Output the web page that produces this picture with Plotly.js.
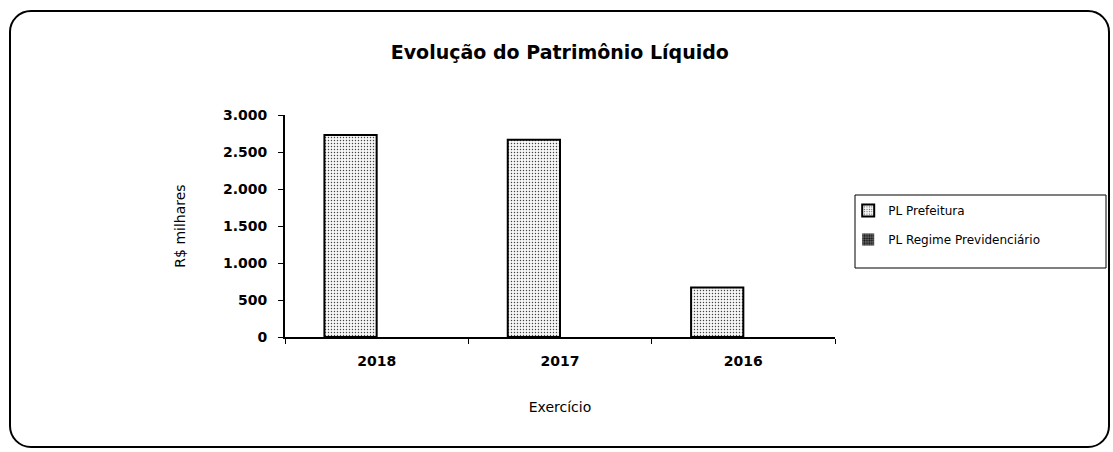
<!DOCTYPE html>
<html>
<head>
<meta charset="utf-8">
<script src="https://cdn.plot.ly/plotly-3.0.1.min.js"></script>
<style>
  body { margin: 0; background: #fff; }
  #wrap { position: relative; width: 1113px; height: 452px; }
  #chart { position: absolute; left: 0; top: 0; width: 1113px; height: 452px; }
  #frame { position: absolute; left: 9px; top: 10px; width: 1097px; height: 434px;
           border: 2px solid #000; border-radius: 22px; pointer-events: none; }
</style>
</head>
<body>
<div id="wrap"><div id="chart"></div><div id="frame"></div></div>
<script>
const categories = ["2018", "2017", "2016"];
const plPrefeitura = [2730, 2665, 670];
const plRegime = [0, 0, 0];
const seriesNames = ["PL Prefeitura", "PL Regime Previdenciário"];

const FONT = "DejaVu Sans, Arial, sans-serif";

const traces = [
  {
    type: "bar", name: seriesNames[0], x: categories, y: plPrefeitura, legendgroup: "a",
    marker: { color: "#ffffff", line: { color: "#000", width: 2 },
              pattern: { shape: ".", fgcolor: "#444", bgcolor: "#f7f7f7", size: 3, solidity: 0.18 } }
  },
  {
    type: "bar", name: seriesNames[1], x: categories, y: plRegime, legendgroup: "b",
    marker: { color: "#444", line: { color: "#000", width: 0 },
              pattern: { shape: ".", fgcolor: "#000", bgcolor: "#666", size: 3, solidity: 0.4 } }
  }
];

const layout = {
  width: 1113, height: 452,
  margin: { l: 285, r: 278, t: 115, b: 115 },
  paper_bgcolor: "rgba(0,0,0,0)", plot_bgcolor: "rgba(0,0,0,0)",
  separators: ",.",
  font: { family: FONT, color: "#000" },
  title: { text: "Evolução do Patrimônio Líquido", font: { size: 19, color: "#000", weight: "bold", family: FONT },
           x: 0.503, xanchor: "center", y: 0.885, yanchor: "middle" },
  barmode: "group", bargap: 0.43, bargroupgap: 0,
  xaxis: {
    type: "category", showline: true, linecolor: "#000", linewidth: 2,
    ticks: "outside", ticklen: 5, tickcolor: "#000", tickson: "boundaries",
    ticklabelstandoff: 10,
    tickfont: { size: 14, color: "#000", family: FONT, weight: "bold" },
    title: { text: "Exercício", font: { size: 14 }, standoff: 34 },
    showgrid: false
  },
  yaxis: {
    range: [0, 3000], dtick: 500, tickformat: ",d",
    showline: true, linecolor: "#000", linewidth: 2,
    ticks: "outside", ticklen: 5, tickcolor: "#000",
    ticklabelstandoff: 8,
    tickfont: { size: 14, color: "#000", family: FONT, weight: "bold" },
    title: { text: "R$ milhares", font: { size: 14 }, standoff: 34 },
    showgrid: false, zeroline: false
  },
  shapes: [
    { type: "rect", xref: "paper", yref: "paper",
      x0: (855 - 285) / 550, x1: (1106 - 285) / 550,
      y0: (337 - 268) / 222, y1: (337 - 195) / 222,
      line: { color: "#000", width: 1 }, fillcolor: "rgba(0,0,0,0)" }
  ],
  showlegend: true,
  legend: {
    x: 1.024, y: 0.635, xanchor: "left", yanchor: "top",
    borderwidth: 0, bgcolor: "rgba(0,0,0,0)",
    font: { size: 12, color: "#000", family: FONT }, tracegroupgap: 10,
    itemwidth: 30, traceorder: "grouped"
  }
};

Plotly.newPlot("chart", traces, layout, { displayModeBar: false, staticPlot: true });
</script>
</body>
</html>
